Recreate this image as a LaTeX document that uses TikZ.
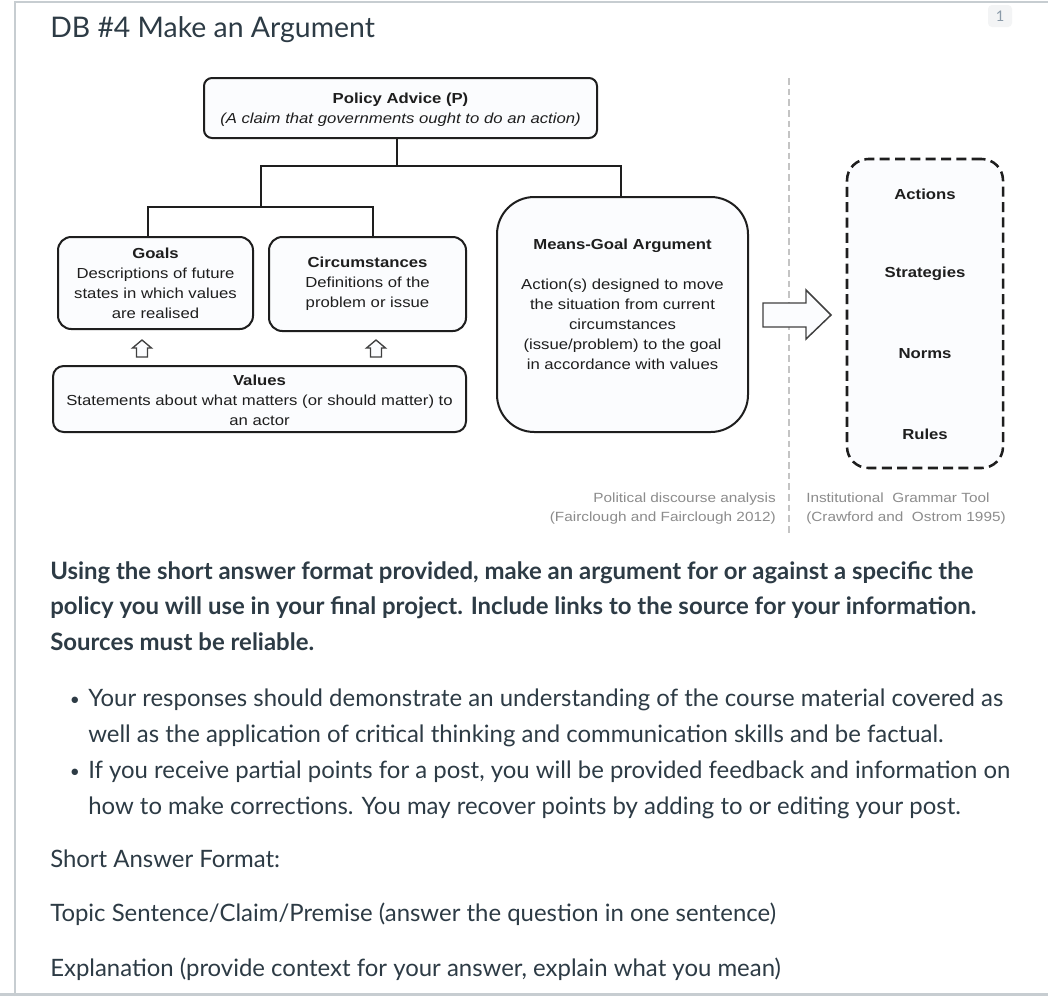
\documentclass[tikz,border=0pt]{standalone}
\usepackage{fontspec}
\setmainfont{Lato}
\newfontfamily\diag[FakeStretch=1.15]{Liberation Sans}
\usetikzlibrary{fit}
\definecolor{ink}{HTML}{2D3B45}
\definecolor{frame}{HTML}{C7CDD1}
\definecolor{dline}{HTML}{1E1E1E}
\definecolor{boxfill}{HTML}{FBFCFE}
\definecolor{capgray}{HTML}{8C8C8C}
\definecolor{sepgray}{HTML}{C4C4C4}
\definecolor{badgebg}{HTML}{F3F4F5}
\definecolor{badgetext}{HTML}{8A9AA8}
\begin{document}
\begin{tikzpicture}[x=0.75pt,y=-0.75pt,
 box/.style={draw=dline, line width=1.5pt, fill=boxfill, inner sep=0pt},
 conn/.style={draw=dline, line width=1.5pt},
 dtext/.style={inner sep=0pt, align=center, font=\diag\fontsize{10.9}{15}\selectfont, text=dline},
 dlabel/.style={inner sep=0pt, font=\diag\fontsize{10.9}{15}\selectfont\bfseries, text=dline},
 captxt/.style={inner sep=0pt, font=\diag\fontsize{10}{14.25}\selectfont, text=capgray},
 blockarrow/.style={draw=dline!85, line width=1pt, fill=boxfill, line join=miter},
 body/.style={inner sep=0pt, anchor=base west, text=ink, font=\fontsize{17.95}{20}\selectfont},
 bodyb/.style={body, font=\fontsize{17.95}{20}\selectfont\bfseries},
 bul/.style={inner sep=0pt, anchor=base, text=ink, font=\fontsize{13}{13}\selectfont},
 ]
\useasboundingbox (0,0) rectangle (1048,996);
\fill[white] (0,0) rectangle (1048,996);
% page frame
\fill[frame] (0,993) rectangle (1048,996);
\draw[frame, line width=1.5pt] (15,996) -- (15,2) -- (1048,2);
\node[fit={(988,5) (1012,27)}, inner sep=0pt, fill=badgebg, rounded corners=3pt] (badge) {};
\node[inner sep=0pt, text=badgetext, font=\fontsize{11}{12}\selectfont] (badgenum) at (1000,16) {1};
% title
\node[anchor=base west, inner sep=0pt, text=ink, font=\fontsize{21.3}{26}\selectfont] (title) at (50,37) {DB \#4 Make an Argument};

% separator
\coordinate (septop) at (789,78);
\coordinate (sepbot) at (789,536);
\draw[sepgray, line width=1pt, dash pattern=on 5pt off 3pt] (septop) -- (sepbot);

% boxes
\node[box, rounded corners=6pt, fit={(204,78) (597,138)}] (pol) {};
\node[dtext] (poltext) at (400.5,110) {\textbf{Policy Advice (P)}\\\textit{(A claim that governments ought to do an action)}};
\node[box, rounded corners=10pt, fit={(58,237) (253,329)}] (goals) {};
\node[dtext] (goalstext) at (155.5,283) {\textbf{Goals}\\Descriptions of future\\states in which values\\are realised};
\node[box, rounded corners=10pt, fit={(269,237) (466,331)}] (circ) {};
\node[dtext] (circtext) at (367.5,284) {\textbf{Circumstances}\\Definitions of the\\problem or issue};
\node[box, rounded corners=8pt, fit={(53,366) (466,432)}] (vals) {};
\node[dtext] (valstext) at (259.5,400) {\textbf{Values}\\Statements about what matters (or should matter) to\\an actor};
\node[box, rounded corners=28pt, fit={(497,197) (748,432)}] (mg) {};
\node[dtext] (mgtext) at (622.5,304.5) {\textbf{Means-Goal Argument}\\[15pt]Action(s) designed to move\\the situation from current\\circumstances\\(issue/problem) to the goal\\in accordance with values};

% dashed box
\node[draw=dline, line width=1.9pt, dash pattern=on 7.5pt off 4pt, rounded corners=16pt, fill=boxfill, inner sep=0pt, fit={(847,159) (1003,468)}] (igt) {};
\node[dlabel] (act) at (925,194) {Actions};
\node[dlabel] (str) at (925,274) {Strategies};
\node[dlabel] (nor) at (925,354) {Norms};
\node[dlabel] (rul) at (925,434) {Rules};

% connectors
\coordinate (t1) at (397,166);
\coordinate (tL) at (261,166);
\coordinate (tR) at (621,166);
\coordinate (gM) at (261,207);
\coordinate (gL) at (148,207);
\coordinate (gR) at (373,207);
\draw[conn] (t1 |- pol.south) -- (t1);
\draw[conn, line join=miter] (gM) -- (tL) -- (tR) -- (tR |- mg.north);
\draw[conn, line join=miter] (gL |- goals.north) -- (gL) -- (gR) -- (gR |- circ.north);

% up arrows
\draw[blockarrow] (142,340) -- (151.5,348) -- (147.5,348) -- (147.5,357) -- (136.5,357) -- (136.5,348) -- (132.5,348) -- cycle;
\draw[blockarrow] (376,340) -- (385.5,348) -- (381.5,348) -- (381.5,357) -- (370.5,357) -- (370.5,348) -- (366.5,348) -- cycle;
% big arrow
\draw[blockarrow, line width=1.1pt] (763,303) -- (806,303) -- (806,290) -- (831,315) -- (806,339) -- (806,327) -- (763,327) -- cycle;

% captions
\node[captxt, anchor=east, align=right] (capL) at (776,508.5) {Political discourse analysis\\(Fairclough and Fairclough 2012)};
\node[captxt, anchor=west, align=left] (capR) at (806,508.5) {Institutional\ \ Grammar Tool\\(Crawford and\ \ Ostrom 1995)};

% body text
\node[bodyb] (p1) at (50,579) {Using the short answer format provided, make an argument for or against a specific the};
\node[bodyb] (p2) at (50,614.5) {policy you will use in your final project. Include links to the source for your information.};
\node[bodyb] (p3) at (50,650) {Sources must be reliable.};
\node[bul] (d1) at (75,705) {\textbullet};
\node[body] (b1) at (88,706) {Your responses should demonstrate an understanding of the course material covered as};
\node[body] (b2) at (88,742) {well as the application of critical thinking and communication skills and be factual.};
\node[bul] (d2) at (75,777) {\textbullet};
\node[body] (b3) at (88,778) {If you receive partial points for a post, you will be provided feedback and information on};
\node[body] (b4) at (88,814) {how to make corrections. You may recover points by adding to or editing your post.};
\node[body] (s1) at (50,867) {Short Answer Format:};
\node[body] (s2) at (50,921) {Topic Sentence/Claim/Premise (answer the question in one sentence)};
\node[body] (s3) at (50,976) {Explanation (provide context for your answer, explain what you mean)};
\end{tikzpicture}
\end{document}
